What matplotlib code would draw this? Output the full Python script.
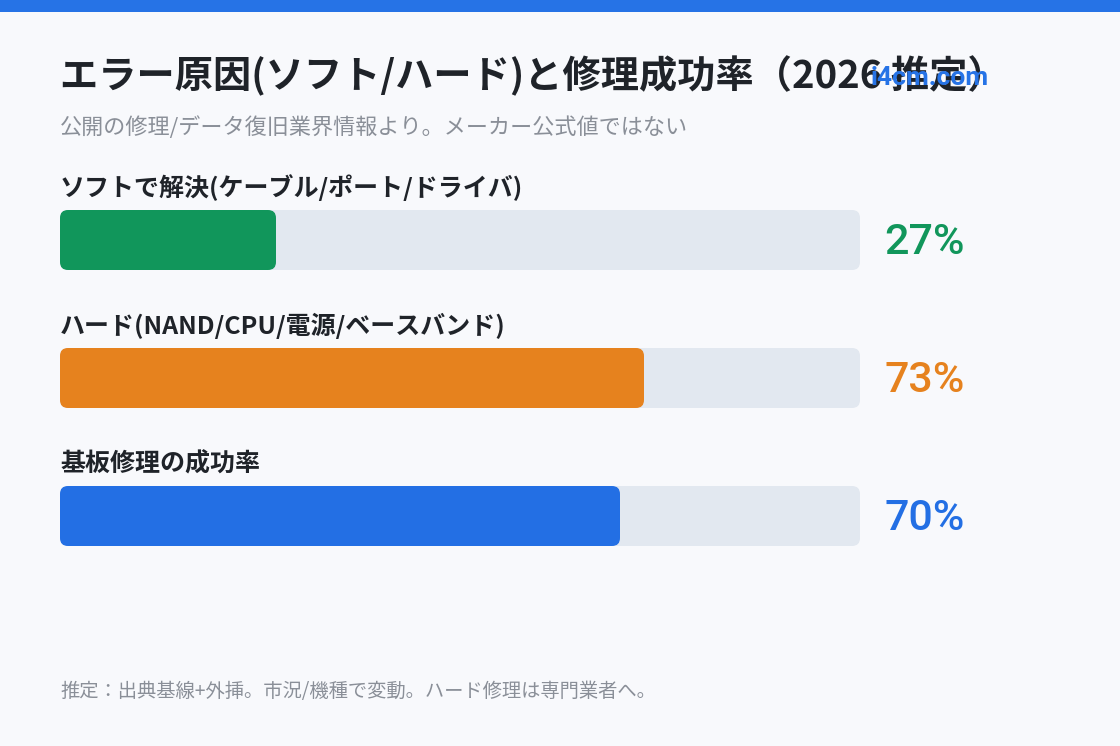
import matplotlib
matplotlib.use("Agg")
import matplotlib.pyplot as plt
from matplotlib.patches import FancyBboxPatch, Rectangle

plt.rcParams['font.family'] = ['Noto Sans CJK JP', 'DejaVu Sans']

title = "エラー原因(ソフト/ハード)と修理成功率（2026 推定）"
subtitle = "公開の修理/データ復旧業界情報より。メーカー公式値ではない"
footnote = "推定：出典基線+外挿。市況/機種で変動。ハード修理は専門業者へ。"
watermark = "i4cm.com"

categories = ["ソフトで解決(ケーブル/ポート/ドライバ)",
              "ハード(NAND/CPU/電源/ベースバンド)",
              "基板修理の成功率"]
values = [27, 73, 70]
colors = ["#11965B", "#E6821E", "#236FE4"]

BG = "#F8F9FC"
TRACK = "#E2E8F0"
W, H = 1120, 746

fig = plt.figure(figsize=(W / 100, H / 100), dpi=100, facecolor=BG)

# full-figure overlay axes in pixel coordinates (for text)
ov = fig.add_axes([0, 0, 1, 1])
ov.set_xlim(0, W)
ov.set_ylim(H, 0)
ov.axis("off")
ov.set_facecolor(BG)
ov.add_patch(Rectangle((0, 0), W, 12, color="#2673E6", lw=0))

ov.text(60, 76, title, fontsize=27.5, fontweight="bold", color="#1F2329",
        va="center", ha="left")
ov.text(60, 128, subtitle, fontsize=15.9, color="#8A8F98", va="center", ha="left")
ov.text(60, 692, footnote, fontsize=13.9, color="#8A8F98", va="center", ha="left")
ov.text(930, 78, watermark, fontsize=19, fontweight="bold", color="#2673E6",
        va="center", ha="center", family=["Roboto", "DejaVu Sans"], zorder=10)

# bar axes: x 60..860 px, y 171..585 px
left, right = 60, 860
top, bottom = 171, 585
ax = fig.add_axes([left / W, 1 - bottom / H, (right - left) / W, (bottom - top) / H])
ax.set_xlim(0, 100)
ax.set_ylim(len(categories) - 0.5, -0.5)
ax.axis("off")

px_x = (right - left) / 100.0          # px per x unit
px_y = (bottom - top) / len(categories)  # px per y unit
bar_h = 60 / px_y
radius = 8 / px_x
aspect = px_x / px_y

for i, (cat, v, c) in enumerate(zip(categories, values, colors)):
    y0 = i - bar_h / 2
    ax.add_patch(FancyBboxPatch((0, y0), 100, bar_h,
                                boxstyle=f"round,pad=0,rounding_size={radius}",
                                mutation_aspect=aspect, fc=TRACK, ec="none"))
    ax.add_patch(FancyBboxPatch((0, y0), v, bar_h,
                                boxstyle=f"round,pad=0,rounding_size={radius}",
                                mutation_aspect=aspect, fc=c, ec="none"))
    ax.text(0, i - 52 / px_y, cat, fontsize=18, fontweight="bold", color="#1F2329",
            va="center", ha="left", clip_on=False)
    ax.text(100 + 24 / px_x, i + 2 / px_y, f"{v}%", fontsize=31, fontweight="medium",
            color=c, va="center", ha="left", clip_on=False,
            family=["Roboto", "DejaVu Sans"])

fig.savefig("out.png", dpi=100, facecolor=BG)
